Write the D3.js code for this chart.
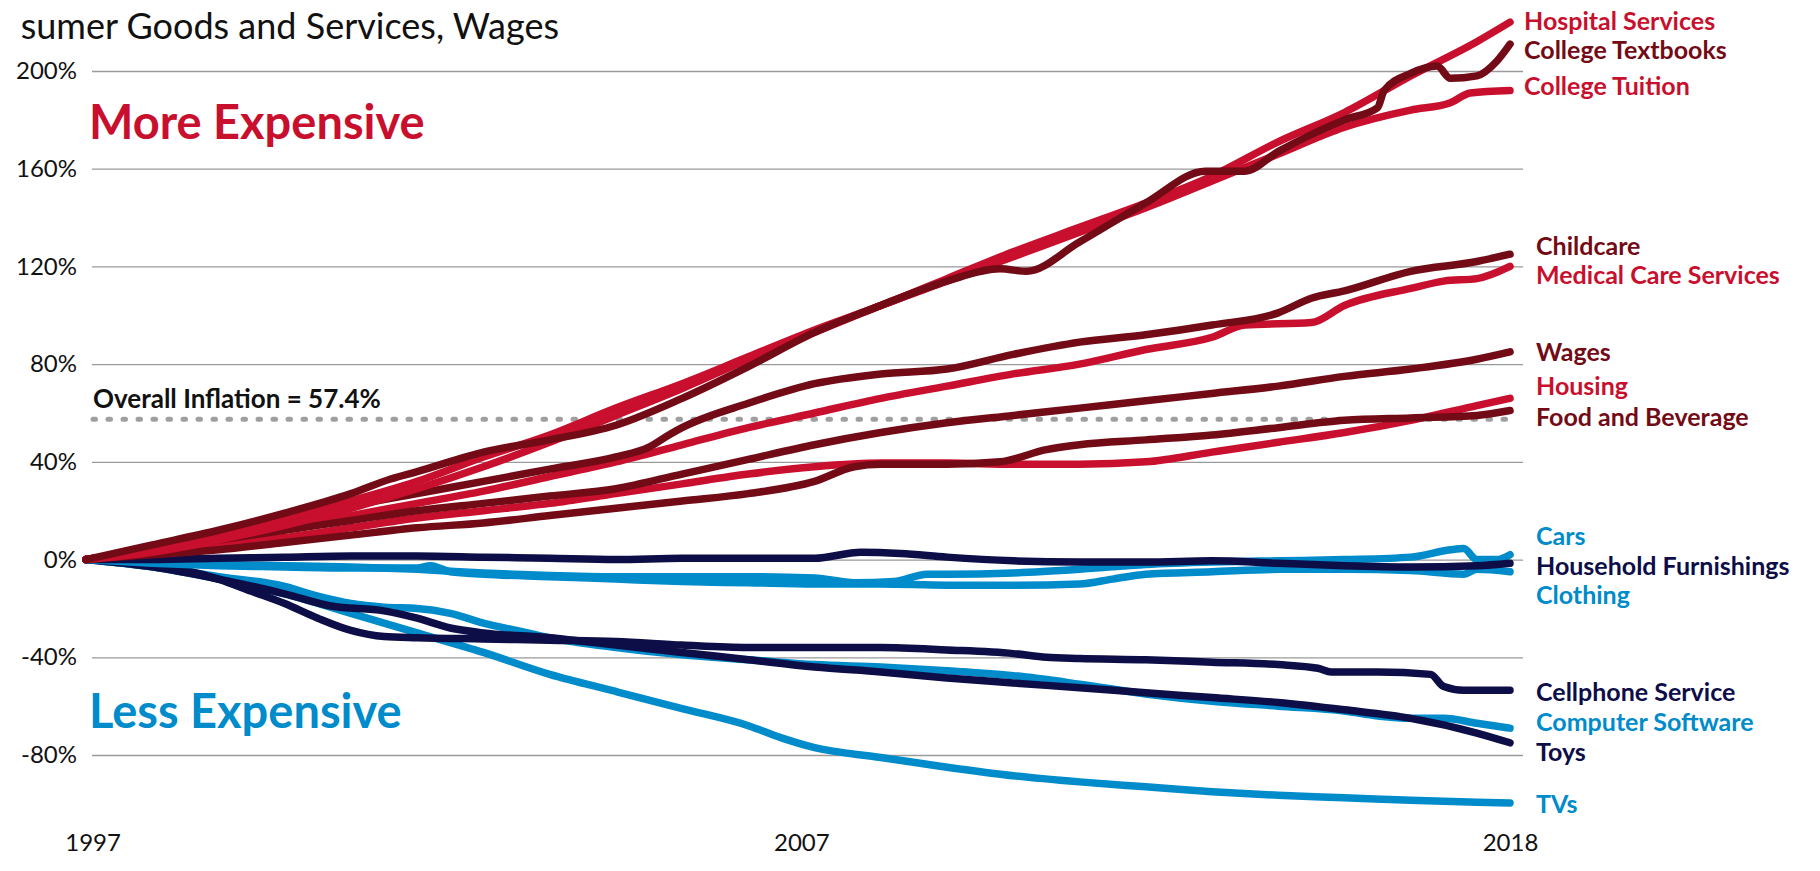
<!DOCTYPE html>
<html>
<head>
<meta charset="utf-8">
<script src="https://cdn.jsdelivr.net/npm/d3@7"></script>
<style>
  body { margin: 0; background: #fff; }
  svg { display: block; font-family: Lato, "Open Sans", sans-serif; }
</style>
</head>
<body>
<div id="chart"></div>
<script>
// price change since Jan 1997, in percent: [year, change]
var hospitalServices = [[1997,0],[1998,4],[1999,10],[2000,17],[2001,24],[2002,32],[2003,42],[2004,51],[2005,62],[2006,72],[2007,83],[2008,94],[2009,104],[2010,115],[2011,126],[2012,136],[2013,146],[2014,157],[2015,171],[2016,183],[2017,198],[2018,212],[2018.5,220]];
var collegeTextbooks = [[1997,0],[1998,6],[1999,12],[2000,19],[2001,27],[2001.6,33],[2002,36],[2003,44],[2004,49],[2005,55],[2006,66],[2007,79],[2008,93],[2009,104],[2010,114],[2010.8,119],[2011.2,118],[2012,130],[2013,146],[2013.9,159],[2014.5,159],[2015,167],[2016,180],[2016.5,185],[2016.6,192],[2017,199],[2017.4,202],[2017.6,197],[2018,198],[2018.3,204],[2018.5,211]];
var collegeTuition = [[1997,0],[1998,3],[1999,8],[2000,14],[2001,21],[2002,29],[2003,38],[2004,48],[2005,59],[2006,70],[2007,82],[2008,93],[2009,104],[2010,114],[2011,124],[2012,134],[2013,144],[2014,155],[2015,166],[2016,177],[2017,184],[2017.6,187],[2017.9,191],[2018.5,192]];
var childcare = [[1997,0],[1998,4],[1999,10],[2000,16],[2001,22],[2002,27],[2003,32],[2004,37],[2005,42],[2005.5,46],[2005.8,51],[2006,54],[2007,64],[2008,72],[2009,76],[2010,78],[2011,84],[2012,89],[2013,92],[2014,96],[2015,101],[2015.5,107],[2016,110],[2017,118],[2018,122],[2018.5,125]];
var medicalCare = [[1997,0],[1998,4],[1999,8],[2000,13],[2001,18],[2002,23],[2003,28],[2004,34],[2005,40],[2006,47],[2007,54],[2008,60],[2009,66],[2010,71],[2011,76],[2012,80],[2013,86],[2014,91],[2014.5,96],[2015.5,97],[2016,104],[2017,111],[2017.5,114],[2018,115],[2018.5,120]];
var wages = [[1997,0],[1998,4],[1999,8],[2000,12],[2001,16],[2002,20],[2003,23],[2004,26],[2005,29],[2006,35],[2007,41],[2008,47],[2009,52],[2010,56],[2011,59],[2012,62],[2013,65],[2014,68],[2015,71],[2016,75],[2017,78],[2018,82],[2018.5,85]];
var housing = [[1997,0],[1998,3],[1999,6],[2000,9],[2001,13],[2002,17],[2003,20],[2004,23],[2005,27],[2006,31],[2007,35],[2008,38],[2009,39.5],[2010,39.5],[2011,39],[2012,39],[2013,40],[2014,44],[2015,48],[2016,52],[2017,57],[2018,63],[2018.5,66]];
var foodBeverage = [[1997,0],[1998,2],[1999,4],[2000,7],[2001,10],[2002,13],[2003,15],[2004,18],[2005,21],[2006,24],[2007,27],[2008,32],[2008.6,38],[2009,39],[2010,39],[2010.8,40],[2011.5,45],[2012,47],[2013,49],[2014,51],[2015,54],[2016,57],[2017,58],[2018,59],[2018.5,61]];
var cars = [[1997,0],[1998,-1],[1999,-2],[2000,-2.5],[2001,-3],[2002,-4],[2003,-5.5],[2004,-6.5],[2005,-7],[2006,-7],[2007,-7],[2008,-7.5],[2008.6,-9.5],[2009.2,-9],[2009.7,-6],[2010,-6],[2011,-5.5],[2012,-4],[2013,-2],[2014,-1],[2015,-0.5],[2016,0],[2017,1],[2017.6,4],[2017.8,4.5],[2018,0],[2018.3,0],[2018.5,2]];
var furnishings = [[1997,0],[1998,0],[1999,0.5],[2000,1],[2001,1.5],[2002,1.5],[2003,1],[2004,0.5],[2005,0],[2006,0.5],[2007,0.5],[2008,0.5],[2008.7,3],[2009.3,2.5],[2010,1],[2011,-0.5],[2012,-1],[2013,-1],[2014,-0.5],[2015,-1.5],[2016,-2.5],[2017,-3],[2018,-2.5],[2018.5,-1.5]];
var clothing = [[1997,0],[1998,-1.5],[1999,-2.5],[2000,-3],[2001,-3.5],[2002,-3.5],[2002.2,-2.5],[2002.5,-5],[2003,-6],[2004,-7],[2005,-8],[2006,-9],[2007,-9.5],[2008,-10],[2009,-10],[2010,-10.5],[2011,-10.5],[2012,-10],[2012.5,-8],[2013,-6],[2014,-5],[2015,-4],[2016,-4],[2017,-4.5],[2017.8,-6],[2018,-4],[2018.5,-5]];
var cellphone = [[1997,0],[1998,-2],[1999,-8],[1999.5,-13],[2000,-18],[2000.5,-24],[2001,-29],[2001.5,-31.5],[2002,-32],[2003,-32.5],[2004,-33],[2005,-33.5],[2006,-35],[2007,-36],[2008,-36],[2009,-36],[2010,-37],[2011,-38.5],[2011.5,-40],[2012,-40.5],[2013,-41],[2014,-42],[2015,-43],[2015.6,-44.5],[2015.8,-46],[2016.5,-46],[2017.3,-47],[2017.5,-52],[2017.8,-53.5],[2018.5,-53.5]];
var software = [[1997,0],[1998,-3],[1999,-7],[2000,-11],[2000.5,-15],[2001,-18],[2001.5,-19.5],[2002,-20],[2002.5,-22],[2003,-26],[2003.5,-29],[2004,-32],[2005,-36],[2006,-39],[2007,-41],[2008,-43],[2009,-44],[2010,-45.5],[2011,-47.5],[2012,-51],[2013,-55],[2014,-58],[2015,-60],[2016,-62],[2016.5,-64],[2017,-65],[2017.5,-65],[2018,-67],[2018.5,-69]];
var toys = [[1997,0],[1998,-3],[1999,-8],[2000,-14],[2000.7,-19],[2001.5,-21],[2002,-24],[2002.5,-28],[2003,-30],[2004,-32],[2005,-35],[2006,-38],[2007,-41],[2008,-44],[2009,-46],[2010,-48.5],[2011,-50.5],[2012,-52.5],[2013,-54.5],[2014,-56.5],[2015,-58.5],[2016,-61.5],[2017,-65],[2018,-71],[2018.5,-75]];
var tvs = [[1997,0],[1998,-3],[1999,-8],[2000,-14],[2001,-22],[2002,-30],[2003,-38],[2004,-47],[2005,-54],[2006,-61],[2007,-68],[2007.5,-73],[2008,-77],[2009,-81],[2010,-85],[2011,-88.5],[2012,-91],[2013,-93],[2014,-95],[2015,-96.5],[2016,-97.5],[2017,-98.5],[2018,-99.3],[2018.5,-99.6]];

var seriesNames = ["Hospital Services", "College Textbooks", "College Tuition", "Childcare",
  "Medical Care Services", "Wages", "Housing", "Food and Beverage", "Cars",
  "Household Furnishings", "Clothing", "Cellphone Service", "Computer Software", "Toys", "TVs"];
var seriesValues = [hospitalServices, collegeTextbooks, collegeTuition, childcare, medicalCare,
  wages, housing, foodBeverage, cars, furnishings, clothing, cellphone, software, toys, tvs];
var seriesGroup = ["red", "maroon", "red", "maroon", "red", "maroon", "red", "maroon",
  "blue", "navy", "blue", "navy", "blue", "navy", "blue"];

var overallInflation = 57.4;
var yTicks = [-80, -40, 0, 40, 80, 120, 160, 200];
var xTickValues = [1997.1, 2007.8, 2018.5];
var xTickLabels = ["1997", "2007", "2018"];

// styling / layout only
var palette = { red: "#c8102e", maroon: "#730b16", blue: "#008bcb", navy: "#0d0d48" };
var labelNudge = [-1, 6, -4, -8, 9, 0, -12, 7, -18, 3, 23, 2, -6, 9, 1];
var labelIndent = [14, 14, 14, 26, 26, 26, 26, 26, 26, 26, 26, 26, 26, 26, 26];
var drawOrder = [14, 12, 13, 11, 10, 8, 9, 6, 7, 4, 5, 3, 2, 0, 1];

drawChart();

function drawChart() {
  var width = 1820, height = 871;

  var x = d3.scaleLinear().domain([1997, 2018.5]).range([86, 1510]);
  var y = d3.scaleLinear().domain([-80, 200]).range([755, 71]);

  var svg = d3.select("#chart").append("svg")
      .attr("width", width)
      .attr("height", height);

  // title (cut off on the left in the original)
  svg.append("text")
      .attr("x", 559)
      .attr("y", 39)
      .attr("text-anchor", "end")
      .style("font-size", "36px")
      .attr("fill", "#111")
      .text("sumer Goods and Services, Wages");

  // grid + y labels
  var gy = svg.append("g")
      .attr("transform", "translate(92,0)")
      .call(d3.axisLeft(y).tickValues(yTicks).tickSize(-(1523 - 92)).tickPadding(15)
        .tickFormat(function (d) { return d + "%"; }));
  gy.select(".domain").remove();
  gy.selectAll(".tick line").attr("stroke", "#9a9a9a").attr("stroke-width", 1.3);
  gy.selectAll(".tick text")
      .style("font-size", "24px")
      .style("font-family", "Lato, sans-serif")
      .attr("fill", "#111");

  // x labels
  var gx = svg.append("g")
      .attr("transform", "translate(0,834)")
      .call(d3.axisBottom(x).tickValues(xTickValues).tickSize(0).tickPadding(0)
        .tickFormat(function (d, i) { return xTickLabels[i]; }));
  gx.select(".domain").remove();
  gx.selectAll(".tick text")
      .style("font-size", "24px")
      .style("font-family", "Lato, sans-serif")
      .attr("fill", "#111");

  // overall inflation
  svg.append("line")
      .attr("x1", 93).attr("x2", 1512)
      .attr("y1", y(overallInflation)).attr("y2", y(overallInflation))
      .attr("stroke", "#9f9f9f")
      .attr("stroke-width", 5)
      .attr("stroke-linecap", "round")
      .attr("stroke-dasharray", "2.5,12.5");
  svg.append("text")
      .attr("x", 93)
      .attr("y", y(overallInflation) - 11)
      .style("font-size", "26px")
      .style("font-weight", 700)
      .attr("fill", "#111")
      .text("Overall Inflation = " + overallInflation + "%");

  svg.append("text")
      .attr("x", 89).attr("y", 139)
      .style("font-size", "47px").style("font-weight", 700)
      .attr("fill", palette.red)
      .text("More Expensive");
  svg.append("text")
      .attr("x", 89).attr("y", 728)
      .style("font-size", "47px").style("font-weight", 700)
      .attr("fill", palette.blue)
      .text("Less Expensive");

  var line = d3.line()
      .x(function (d) { return x(d[0]); })
      .y(function (d) { return y(d[1]); })
      .curve(d3.curveMonotoneX);

  svg.append("g").selectAll("path")
      .data(drawOrder)
      .enter()
      .append("path")
      .attr("d", function (i) { return line(seriesValues[i]); })
      .attr("fill", "none")
      .attr("stroke", function (i) { return palette[seriesGroup[i]]; })
      .attr("stroke-width", 7.5)
      .attr("stroke-linecap", "round")
      .attr("stroke-linejoin", "round");

  svg.append("g").selectAll("text")
      .data(seriesNames)
      .enter()
      .append("text")
      .attr("x", function (d, i) { return x(2018.5) + labelIndent[i]; })
      .attr("y", function (d, i) {
        var v = seriesValues[i];
        return y(v[v.length - 1][1]) + labelNudge[i];
      })
      .attr("dy", "0.35em")
      .style("font-size", "25px")
      .style("font-weight", 700)
      .attr("fill", function (d, i) { return palette[seriesGroup[i]]; })
      .text(function (d) { return d; });
}
</script>
</body>
</html>
